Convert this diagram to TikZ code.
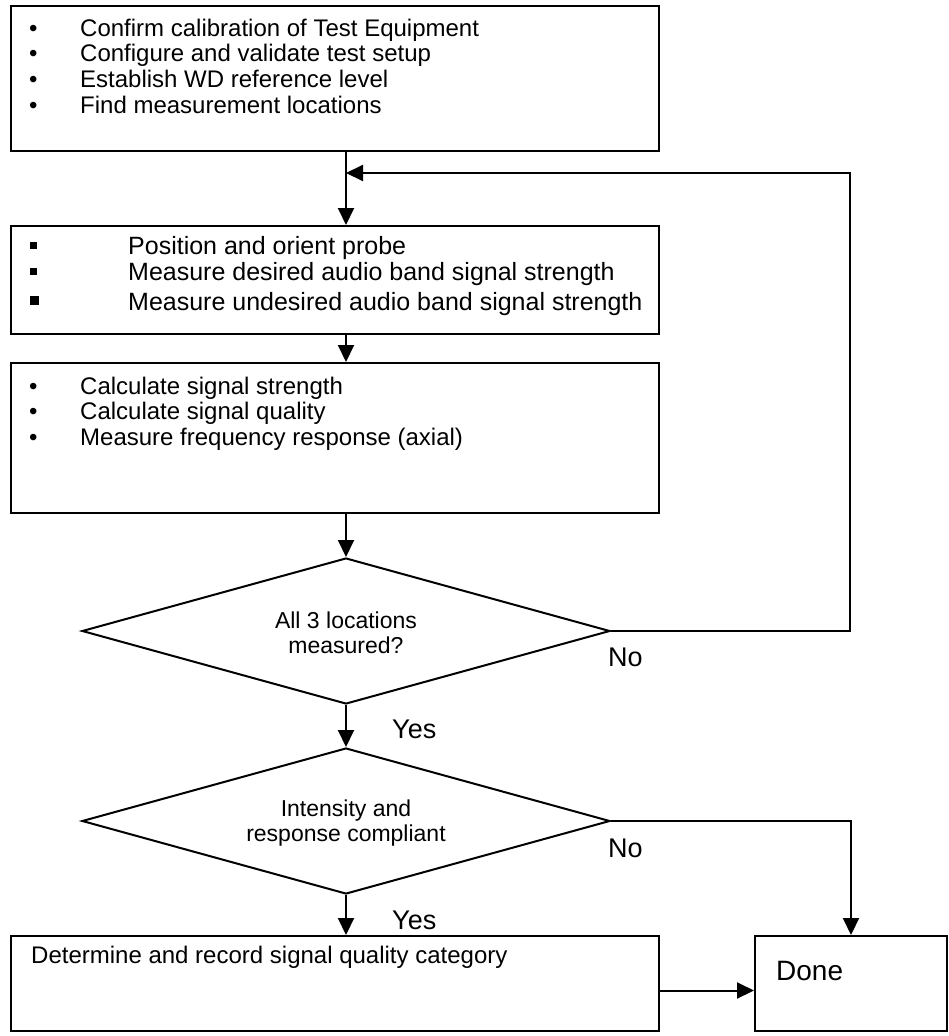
\documentclass[tikz,border=0pt]{standalone}
\usepackage{fontspec}
\setmainfont{Liberation Sans}
\usetikzlibrary{shapes.geometric,arrows.meta}
\newcommand{\sqmark}[1]{\rule[5pt]{#1}{#1}}

\begin{document}
\begin{tikzpicture}[x=1pt, y=-1pt,
  stage/.style={draw, line width=2pt, anchor=north west, minimum width=648pt, inner sep=0pt},
  choice/.style={draw, diamond, line width=2pt, aspect=3.6, minimum width=528pt, minimum height=146pt, inner sep=0pt},
  ask/.style={inner sep=0pt, align=center, font=\fontsize{23}{25}\selectfont},
  list/.style={anchor=north west, inner sep=0pt, align=left, font=\fontsize{24}{25.7}\selectfont},
  tag/.style={anchor=base west, inner sep=0pt, font=\fontsize{27}{29}\selectfont},
  link/.style={line width=2pt, -{Triangle[length=17pt, width=16pt]}}]
\useasboundingbox (0,0) rectangle (948,1036);

\node[stage, minimum height=145pt] (setup) at (10,5) {};
\node[stage, minimum height=108pt] (probe) at (10,225) {};
\node[stage, minimum height=150pt] (calc) at (10,362) {};
\node[choice] (measured) at (346,631) {};
\node[choice] (compliant) at (346,821) {};
\node[stage, minimum height=95pt] (record) at (10,935) {};
\node[stage, minimum width=192pt, minimum height=95pt] (done) at (754,935) {};

\node[list] (setuptext) at (29,18) {\begin{tabular}{@{}p{51pt}@{}l@{}}
  \textbullet & Confirm calibration of Test Equipment\\
  \textbullet & Configure and validate test setup\\
  \textbullet & Establish WD reference level\\
  \textbullet & Find measurement locations
\end{tabular}};
\node[list, font=\fontsize{25}{26}\selectfont] (probetext) at (30,236) {\begin{tabular}{@{}p{98pt}@{}l@{}}
  \sqmark{7pt} & Position and orient probe\\
  \sqmark{7pt} & Measure desired audio band signal strength\\[4pt]
  \sqmark{9pt} & Measure undesired audio band signal strength
\end{tabular}};
\node[list] (calctext) at (29,376) {\begin{tabular}{@{}p{51pt}@{}l@{}}
  \textbullet & Calculate signal strength\\
  \textbullet & Calculate signal quality\\
  \textbullet & Measure frequency response (axial)
\end{tabular}};
\node[ask] (measuredtext) at ([yshift=-2pt]measured) {All 3 locations\\measured?};
\node[ask] (complianttext) at ([yshift=-2pt]compliant) {Intensity and\\response compliant};
\node[tag, font=\fontsize{24}{26}\selectfont] (recordtext) at (31,963) {Determine and record signal quality category};
\node[tag, font=\fontsize{28}{30}\selectfont] (donetext) at (776,980) {Done};

\node[tag] (no1) at (608,666) {No};
\node[tag] (yes1) at (392,738) {Yes};
\node[tag] (no2) at (608,857) {No};
\node[tag] (yes2) at (392,929) {Yes};

\coordinate (back) at (850,173);
\draw[link] (setup.south -| measured) -- (probe.north -| measured);
\draw[link] (probe.south -| measured) -- (calc.north -| measured);
\draw[link] (calc.south -| measured) -- (measured.north);
\draw[link] (measured.south) -- (compliant.north);
\draw[link] (compliant.south) -- (record.north -| compliant);
\draw[link] (measured.east) -| (back) -- (back -| measured);
\draw[link] (compliant.east) -| (done.north);
\draw[link] ([yshift=-7pt]record.east) -- ([yshift=-7pt]done.west);
\end{tikzpicture}
\end{document}
